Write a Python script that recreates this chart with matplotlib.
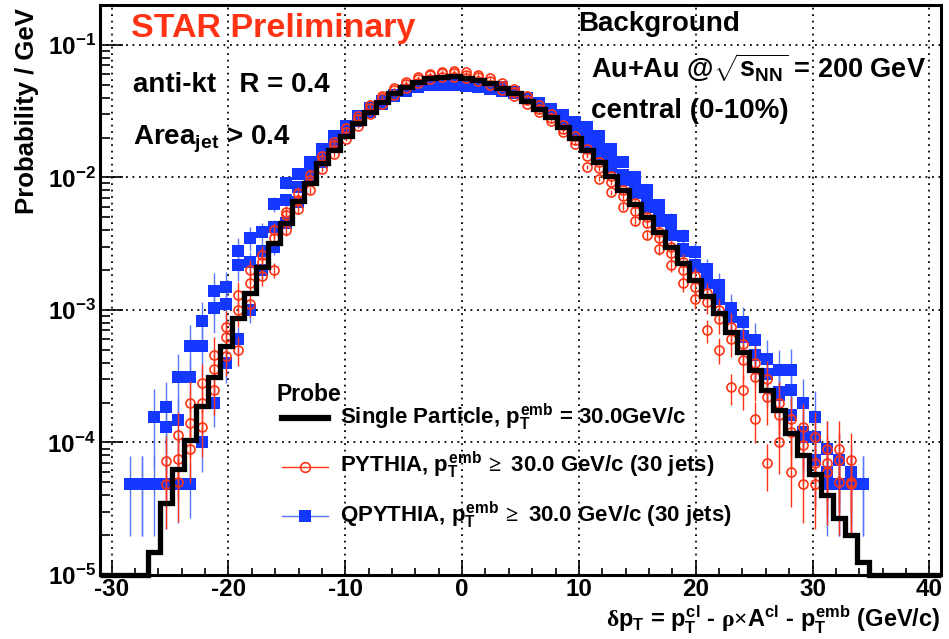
import numpy as np
import matplotlib
matplotlib.use("Agg")
import matplotlib.pyplot as plt
from matplotlib.lines import Line2D
from matplotlib.ticker import FixedLocator, FuncFormatter, MultipleLocator, LogLocator, NullFormatter

nan = np.nan

# binning of the delta pT histograms (70 bins from -31 to 41 GeV/c)
bin_lo, bin_hi, n_bins = -31.0, 41.0, 70

# single particle probe (black step histogram), per bin, 0 = empty bin
single_particle = [0, 0, 0, 0, 1.5e-5, 3.5e-5, 6.3e-5, 1.04e-4, 1.9e-4, 3.1e-4,
                   5.3e-4, 8.7e-4, 1.34e-3, 2.1e-3, 3.2e-3, 4.5e-3, 6.6e-3, 9.0e-3, 1.28e-2, 1.6e-2,
                   2.07e-2, 2.58e-2, 3.14e-2, 3.72e-2, 4.3e-2, 4.82e-2, 5.26e-2, 5.58e-2, 5.77e-2, 5.8e-2,
                   5.66e-2, 5.45e-2, 5.15e-2, 4.75e-2, 4.3e-2, 3.8e-2, 3.3e-2, 2.85e-2, 2.4e-2, 2.0e-2,
                   1.6e-2, 1.3e-2, 1.03e-2, 8.0e-3, 6.3e-3, 5.0e-3, 3.9e-3, 3.0e-3, 2.26e-3, 1.68e-3,
                   1.28e-3, 9.5e-4, 6.8e-4, 4.8e-4, 3.5e-4, 2.5e-4, 1.76e-4, 1.17e-4, 8.0e-5, 5.8e-5,
                   4.0e-5, 2.7e-5, 2.0e-5, 1.26e-5, 0, 0, 0, 0, 0, 0]

# PYTHIA jet probes (red open circles), three overlaid sets
pythia_a = [nan, nan, nan, nan, nan, 7.2e-5, 1.13e-4, 2.0e-4, 2.8e-4, 4.6e-4,
            7.5e-4, 1.0e-3, 1.6e-3, 2.6e-3, 3.5e-3, 5.2e-3, 6.8e-3, 9.6e-3, 1.35e-2, 1.75e-2,
            2.2e-2, 2.75e-2, 3.35e-2, 3.95e-2, 4.55e-2, 5.1e-2, 5.55e-2, 5.9e-2, 6.1e-2, 6.15e-2,
            5.95e-2, 5.7e-2, 5.35e-2, 4.9e-2, 4.4e-2, 3.85e-2, 3.3e-2, 2.8e-2, 2.3e-2, 1.9e-2,
            1.45e-2, 1.17e-2, 9.3e-3, 7.2e-3, 5.6e-3, 4.5e-3, 3.5e-3, 2.7e-3, 2.0e-3, 1.5e-3,
            1.15e-3, 8.5e-4, 6.0e-4, 4.2e-4, 3.1e-4, 2.2e-4, 1.6e-4, 1.2e-4, 9.5e-5, 7.0e-5,
            7.0e-5, 5.0e-5, 5.0e-5, nan, nan, nan, nan, nan, nan, nan]
pythia_b = [nan, nan, nan, nan, nan, nan, 5.0e-5, 9.0e-5, 1.3e-4, 2.5e-4,
            4.5e-4, 5.0e-4, 1.1e-3, 1.8e-3, 2.0e-3, 4.0e-3, 5.8e-3, 8.0e-3, 1.15e-2, 1.5e-2,
            1.95e-2, 2.45e-2, 3.0e-2, 3.6e-2, 4.2e-2, 4.7e-2, 5.15e-2, 5.5e-2, 5.7e-2, 5.75e-2,
            5.6e-2, 5.35e-2, 5.0e-2, 4.6e-2, 4.1e-2, 3.6e-2, 3.1e-2, 2.65e-2, 2.2e-2, 1.8e-2,
            1.2e-2, 9.8e-3, 7.7e-3, 6.0e-3, 4.7e-3, 3.7e-3, 2.9e-3, 2.2e-3, 1.6e-3, 1.2e-3,
            7.0e-4, 5.0e-4, 2.6e-4, 2.5e-4, 1.5e-4, 7.0e-5, 1.0e-4, 6.0e-5, 4.9e-5, 4.9e-5,
            6.0e-5, 7.4e-5, 4.9e-5, nan, nan, nan, nan, nan, nan, nan]
pythia_c = [nan, nan, nan, nan, nan, 4.9e-5, 7.5e-5, 1.4e-4, 2.0e-4, 3.6e-4,
            6.2e-4, 1.3e-3, 2.0e-3, 2.3e-3, 4.0e-3, 5.5e-3, 7.6e-3, 1.05e-2, 1.45e-2, 1.85e-2,
            2.35e-2, 2.9e-2, 3.5e-2, 4.1e-2, 4.7e-2, 5.25e-2, 5.7e-2, 6.05e-2, 6.25e-2, 6.3e-2,
            6.2e-2, 5.95e-2, 5.6e-2, 5.15e-2, 4.65e-2, 4.1e-2, 3.55e-2, 3.0e-2, 2.5e-2, 2.05e-2,
            1.65e-2, 1.3e-2, 1.02e-2, 8.0e-3, 6.4e-3, 5.0e-3, 3.9e-3, 3.0e-3, 2.3e-3, 1.8e-3,
            1.35e-3, 1.0e-3, 7.5e-4, 5.5e-4, 4.0e-4, 3.0e-4, 2.0e-4, 1.5e-4, 1.3e-4, 1.1e-4,
            9.0e-5, 9.0e-5, 7.4e-5, nan, nan, nan, nan, nan, nan, nan]

# QPYTHIA jet probes (blue squares), three overlaid sets
qpythia_a = [nan, nan, nan, nan, nan, 4.9e-5, 4.9e-5, 4.9e-5, 1.0e-4, 2.0e-4,
             4.0e-4, 6.0e-4, 1.0e-3, 2.0e-3, 3.0e-3, 4.5e-3, 6.5e-3, 9.5e-3, 1.3e-2, 1.7e-2,
             2.15e-2, 2.65e-2, 3.1e-2, 3.6e-2, 4.1e-2, 4.5e-2, 4.85e-2, 5.1e-2, 5.25e-2, 5.3e-2,
             5.25e-2, 5.1e-2, 4.85e-2, 4.8e-2, 4.4e-2, 3.95e-2, 3.5e-2, 3.05e-2, 2.6e-2, 2.2e-2,
             1.8e-2, 1.48e-2, 1.2e-2, 9.5e-3, 7.6e-3, 6.0e-3, 4.7e-3, 3.7e-3, 2.8e-3, 2.1e-3,
             1.6e-3, 1.2e-3, 8.8e-4, 6.3e-4, 4.6e-4, 3.3e-4, 2.3e-4, 1.6e-4, 1.1e-4, 7.4e-5,
             4.9e-5, 4.9e-5, 4.9e-5, nan, nan, nan, nan, nan, nan, nan]
qpythia_b = [nan, nan, nan, 4.9e-5, 4.9e-5, 1.3e-4, 1.47e-4, 3.1e-4, 5.3e-4, 1.03e-3,
             1.1e-3, 2.2e-3, 2.3e-3, 2.8e-3, 4.2e-3, 6.8e-3, 8.5e-3, 1.15e-2, 1.5e-2, 1.9e-2,
             2.35e-2, 2.8e-2, 3.3e-2, 3.8e-2, 4.2e-2, 4.6e-2, 4.9e-2, 5.1e-2, 5.2e-2, 5.2e-2,
             5.1e-2, 4.95e-2, 4.8e-2, 4.6e-2, 4.3e-2, 3.95e-2, 3.55e-2, 3.15e-2, 2.75e-2, 2.35e-2,
             2.05e-2, 1.7e-2, 1.35e-2, 1.05e-2, 8.2e-3, 6.5e-3, 5.1e-3, 3.9e-3, 2.9e-3, 2.2e-3,
             1.7e-3, 1.25e-3, 9.0e-4, 6.4e-4, 4.6e-4, 3.3e-4, 2.4e-4, 2.5e-4, 1.2e-4, 1.57e-4,
             9.0e-5, 7.4e-5, 6.0e-5, 4.9e-5, nan, nan, nan, nan, nan, nan]
qpythia_c = [nan, nan, 4.9e-5, 4.9e-5, 1.57e-4, 1.86e-4, 3.1e-4, 5.3e-4, 8.2e-4, 1.4e-3,
             1.5e-3, 2.8e-3, 3.5e-3, 3.9e-3, 6.3e-3, 9.1e-3, 1.07e-2, 1.3e-2, 1.65e-2, 2.05e-2,
             2.45e-2, 2.9e-2, 3.35e-2, 3.8e-2, 4.2e-2, 4.55e-2, 4.8e-2, 4.95e-2, 5.0e-2, 4.95e-2,
             4.9e-2, 4.8e-2, 4.65e-2, 4.5e-2, 4.3e-2, 4.0e-2, 3.65e-2, 3.3e-2, 2.95e-2, 2.6e-2,
             2.4e-2, 2.05e-2, 1.65e-2, 1.3e-2, 1.0e-2, 8.0e-3, 6.2e-3, 4.8e-3, 3.6e-3, 2.75e-3,
             2.05e-3, 1.55e-3, 1.04e-3, 8.1e-4, 5.9e-4, 4.3e-4, 3.5e-4, 3.5e-4, 2.0e-4, 1.1e-4,
             6.0e-5, 4.9e-5, nan, 4.9e-5, nan, nan, nan, nan, nan, nan]

# relative statistical uncertainty per bin
rel_err = [0.6, 0.6, 0.6, 0.6, 0.6, 0.55, 0.5, 0.45, 0.4, 0.35,
           0.3, 0.25, 0.2, 0.16, 0.13, 0.1, 0.08, 0.06, 0.05, 0.05,
           0.03, 0.03, 0.03, 0.03, 0.03, 0.03, 0.03, 0.03, 0.03, 0.03,
           0.03, 0.03, 0.03, 0.03, 0.03, 0.03, 0.03, 0.03, 0.03, 0.03,
           0.03, 0.04, 0.05, 0.06, 0.07, 0.08, 0.1, 0.12, 0.14, 0.16,
           0.19, 0.22, 0.26, 0.3, 0.34, 0.38, 0.42, 0.46, 0.5, 0.55,
           0.6, 0.6, 0.6, 0.6, 0.6, 0.6, 0.6, 0.6, 0.6, 0.6]

x_ticks = [-30, -20, -10, 0, 10, 20, 30, 40]
y_ticks = [1e-5, 1e-4, 1e-3, 1e-2, 1e-1]

RED = "#ff3314"
BLUE = "#1438ff"
BLUE_ERR = "#5a78ff"

plt.rcParams["font.family"] = ["Liberation Sans", "DejaVu Sans"]
plt.rcParams["font.weight"] = "bold"
plt.rcParams["mathtext.fontset"] = "custom"
plt.rcParams["mathtext.rm"] = "Liberation Serif"
plt.rcParams["mathtext.it"] = "Liberation Sans:bold"
plt.rcParams["mathtext.bf"] = "Liberation Sans:bold"
plt.rcParams["mathtext.sf"] = "Liberation Sans:bold"

W, H = 949, 639
fig = plt.figure(figsize=(W / 100, H / 100), dpi=100)
ax = fig.add_axes([100 / W, 1 - 575 / H, 841 / W, 570 / H])


def fx(x):
    return x / W


def fy(y):
    return 1 - y / H


edges = np.linspace(bin_lo, bin_hi, n_bins + 1)
centers = 0.5 * (edges[:-1] + edges[1:])
err = np.array(rel_err)

# blue first (behind), then red, black on top
for q in [qpythia_c, qpythia_b, qpythia_a]:
    v = np.array(q)
    ax.errorbar(centers, v, yerr=v * err, fmt="s", ms=8, mfc=BLUE, mec=BLUE, mew=0,
                ecolor=BLUE_ERR, elinewidth=1.0, capsize=0, zorder=2)
for p in [pythia_b, pythia_c, pythia_a]:
    v = np.array(p)
    ax.errorbar(centers, v, yerr=v * err, fmt="o", ms=6.5, mfc="none", mec=RED, mew=1.2,
                ecolor=RED, elinewidth=1.0, capsize=0, zorder=3)

ax.stairs(np.clip(single_particle, 1e-5, None), edges, color="k", lw=3.8,
          baseline=None, zorder=5, clip_on=False)

ax.set_yscale("log")
ax.set_xlim(bin_lo, bin_hi)
ax.set_ylim(1e-5, 0.2)

ax.xaxis.set_major_locator(FixedLocator(x_ticks))
ax.xaxis.set_minor_locator(MultipleLocator(2))
ax.xaxis.set_major_formatter(FuncFormatter(lambda v, p: f"{v:.0f}"))
ax.yaxis.set_major_locator(FixedLocator(y_ticks))
ax.yaxis.set_minor_locator(LogLocator(base=10, subs=np.arange(2, 10)))
ax.yaxis.set_minor_formatter(NullFormatter())
ax.yaxis.set_major_formatter(FuncFormatter(
    lambda v, p: r"$\mathbf{10^{%d}}$" % int(round(np.log10(v)))))

ax.tick_params(which="both", direction="in", top=False, right=False, width=1.2)
ax.xaxis.set_tick_params(which="major", length=11, pad=2.5, labelsize=17.5)
ax.xaxis.set_tick_params(which="minor", length=5)
ax.yaxis.set_tick_params(which="major", length=16.5, pad=3, labelsize=17.5)
ax.yaxis.set_tick_params(which="minor", length=7)

ax.grid(True, which="major", color="k", ls=(0, (1, 2.6)), lw=1.3)
for s in ax.spines.values():
    s.set_linewidth(2.2)

# labels
fig.text(fx(27), fy(8), "Probability / GeV", rotation=90, ha="center", va="top", fontsize=18.5)
fig.text(fx(940), fy(628),
         r"$\mathrm{\delta}p_{T}$ = $p_{T}^{cl}$ - $\mathrm{\rho}$$\times$A$^{cl}$ - $p_{T}^{emb}$ (GeV/c)",
         ha="right", va="baseline", fontsize=17)

# annotations
fig.text(fx(131), fy(37), "STAR Preliminary", color=RED, fontsize=24.5, va="baseline")
fig.text(fx(133), fy(92), "anti-kt   R = 0.4", fontsize=20, va="baseline")
fig.text(fx(133), fy(145), "Area$_{jet}$ > 0.4", fontsize=20, va="baseline")
fig.text(fx(578), fy(31), "Background", fontsize=20, va="baseline")
fig.text(fx(591), fy(77), r"Au+Au @$\sqrt{s_{NN}}$ = 200 GeV", fontsize=19.5, va="baseline")
fig.text(fx(591), fy(118), "central (0-10%)", fontsize=20, va="baseline")

# legend
fig.text(fx(277), fy(401), "Probe", fontsize=16.5, va="baseline")
leg_rows = [
    (418, dict(color="k", lw=4.5), None, "Single Particle, $p_{T}^{emb}$ = 30.0GeV/c"),
    (466.5, dict(color=RED, lw=1.0), dict(marker="o", ms=7, mfc="none", mec=RED, mew=1.2),
     r"PYTHIA, $p_{T}^{emb}$$\,\geq$ 30.0 GeV/c (30 jets)"),
    (516, dict(color=BLUE_ERR, lw=1.0), dict(marker="s", ms=8, mfc=BLUE, mec=BLUE, mew=0),
     r"QPYTHIA, $p_{T}^{emb}$$\,\geq$ 30.0 GeV/c (30 jets)"),
]
for y, line_kw, mk_kw, label in leg_rows:
    fig.add_artist(Line2D([fx(282), fx(328)], [fy(y), fy(y)], transform=fig.transFigure, **line_kw))
    if mk_kw:
        fig.add_artist(Line2D([fx(305)], [fy(y)], transform=fig.transFigure, ls="none", **mk_kw))
    fig.text(fx(340), fy(y + 6), label, fontsize=16, va="baseline")

fig.savefig("out.png", dpi=100)
